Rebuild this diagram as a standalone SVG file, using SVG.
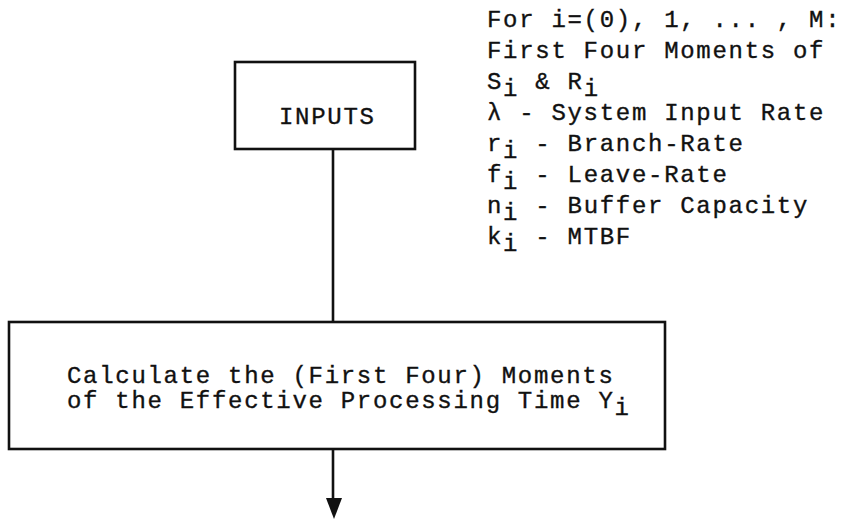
<svg xmlns="http://www.w3.org/2000/svg" width="849" height="519" viewBox="0 0 849 519">
<style>
.box{fill:none;stroke:#111;stroke-width:2.6}
.t{font-family:"Liberation Mono","Courier New",monospace;font-size:24px;letter-spacing:1.7px;fill:#111;stroke:#111;stroke-width:0.35}
.con{stroke:#111;stroke-width:2.6;fill:none}
</style>
<rect width="849" height="519" fill="#fff"/>
<g id="inputs">
<rect class="box" x="235" y="62" width="180" height="87"/>
<text class="t" x="279" y="124">INPUTS</text>
</g>
<g id="input-list">
<text class="t" x="487" y="27">For i=(0), 1, ... , M:</text>
<text class="t" x="487" y="58">First Four Moments of</text>
<text class="t" x="487" y="89">S<tspan dy="7">i</tspan><tspan dy="-7"> &amp; R</tspan><tspan dy="7">i</tspan></text>
<text class="t" x="487" y="120">λ  - System Input Rate</text>
<text class="t" x="487" y="151">r<tspan dy="7">i</tspan><tspan dy="-7"> - Branch-Rate</tspan></text>
<text class="t" x="487" y="182">f<tspan dy="7">i</tspan><tspan dy="-7"> - Leave-Rate</tspan></text>
<text class="t" x="487" y="213">n<tspan dy="7">i</tspan><tspan dy="-7"> - Buffer Capacity</tspan></text>
<text class="t" x="487" y="244">k<tspan dy="7">i</tspan><tspan dy="-7"> - MTBF</tspan></text>
</g>
<g id="calculate">
<rect class="box" x="9" y="322" width="656" height="127"/>
<text class="t" x="67" y="383">Calculate the (First Four) Moments</text>
<text class="t" x="67" y="408">of the Effective Processing Time Y<tspan dy="7">i</tspan></text>
</g>
<g id="connectors">
<line class="con" x1="333" y1="149" x2="333" y2="322"/>
<line class="con" x1="333" y1="449" x2="333" y2="502"/>
<polygon points="326,498 342,498 334,519" fill="#111"/>
</g>
</svg>
